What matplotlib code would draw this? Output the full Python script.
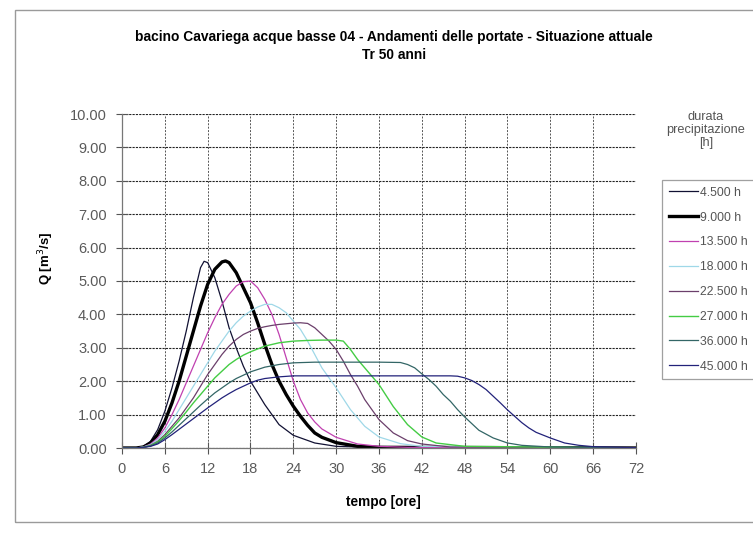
import matplotlib
matplotlib.use("Agg")
import matplotlib.pyplot as plt
from matplotlib.patches import Rectangle

plt.rcParams['font.family'] = ['Liberation Sans', 'DejaVu Sans']

# ---------------- data ----------------
title = "bacino Cavariega acque basse 04 - Andamenti delle portate - Situazione attuale"
subtitle = "Tr 50 anni"
labels = ["4.500 h", "9.000 h", "13.500 h", "18.000 h", "22.500 h", "27.000 h", "36.000 h", "45.000 h"]
x_ticks = [0, 6, 12, 18, 24, 30, 36, 42, 48, 54, 60, 66, 72]
y_ticks = [0, 1, 2, 3, 4, 5, 6, 7, 8, 9, 10]

t_4_5 = [0, 2, 3, 4, 5, 6, 7, 8, 9, 10, 11, 11.5, 12, 13, 14, 15, 16, 17, 18, 20, 22, 24, 27, 30, 36, 72]
q_4_5 = [0, 0, 0.05, 0.2, 0.55, 1.1, 1.8, 2.6, 3.5, 4.5, 5.4, 5.59, 5.55, 5.1, 4.4, 3.6, 3.0, 2.45, 2.0, 1.3, 0.7, 0.38, 0.15, 0.05, 0.01, 0]

t_9 = [0, 2, 3, 4, 5, 6, 7, 8, 9, 10, 11, 12, 13, 14, 14.5, 15, 16, 17, 18, 19, 20, 21, 22, 23, 24, 25, 26, 27, 28, 30, 33, 36, 72]
q_9 = [0, 0, 0.03, 0.15, 0.4, 0.8, 1.35, 2.0, 2.75, 3.5, 4.25, 4.9, 5.35, 5.57, 5.6, 5.55, 5.25, 4.8, 4.35, 3.75, 3.1, 2.5, 2.0, 1.6, 1.25, 0.95, 0.68, 0.45, 0.32, 0.16, 0.05, 0.02, 0]

t_13_5 = [0, 2, 3, 4, 5, 6, 7, 8, 9, 10, 11, 12, 13, 14, 15, 16, 17, 18, 19, 20, 21, 22, 23, 24, 25, 26, 27, 28, 30, 33, 36, 40, 72]
q_13_5 = [0, 0, 0.03, 0.12, 0.3, 0.6, 1.0, 1.45, 1.95, 2.45, 2.95, 3.45, 3.9, 4.3, 4.6, 4.85, 4.98, 5.0, 4.8, 4.45, 4.0, 3.4, 2.7, 2.0, 1.45, 1.05, 0.78, 0.57, 0.32, 0.12, 0.05, 0.02, 0]

t_18 = [0, 2, 3, 4, 5, 6, 7, 8, 9, 10, 11, 12, 13, 14, 15, 16, 17, 18, 19, 20, 21, 22, 23, 24, 25, 26, 27, 28, 29, 30, 32, 34, 36, 39, 42, 72]
q_18 = [0, 0, 0.03, 0.1, 0.25, 0.5, 0.8, 1.15, 1.5, 1.85, 2.2, 2.55, 2.9, 3.2, 3.5, 3.75, 3.95, 4.1, 4.22, 4.3, 4.3, 4.2, 4.05, 3.8, 3.55, 3.2, 2.8, 2.4, 2.1, 1.8, 1.15, 0.65, 0.33, 0.13, 0.05, 0]

t_22_5 = [0, 2, 3, 4, 5, 6, 7, 8, 9, 10, 11, 12, 13, 14, 15, 16, 17, 18, 19, 20, 21, 22, 23, 24, 25, 26, 27, 28, 29, 30, 31, 32, 33, 34, 36, 38, 40, 42, 46, 72]
q_22_5 = [0, 0, 0.02, 0.08, 0.2, 0.4, 0.65, 0.9, 1.2, 1.5, 1.85, 2.2, 2.5, 2.8, 3.05, 3.25, 3.4, 3.5, 3.58, 3.63, 3.67, 3.7, 3.72, 3.74, 3.75, 3.73, 3.6, 3.4, 3.2, 2.95, 2.6, 2.2, 1.85, 1.45, 0.85, 0.45, 0.22, 0.12, 0.03, 0]

t_27 = [0, 2, 3, 4, 5, 6, 7, 8, 9, 10, 11, 12, 13, 14, 15, 16, 17, 18, 20, 22, 24, 26, 28, 30, 31, 32, 33, 34, 35, 36, 38, 40, 42, 44, 48, 72]
q_27 = [0, 0, 0.02, 0.07, 0.18, 0.35, 0.58, 0.82, 1.08, 1.35, 1.6, 1.85, 2.1, 2.3, 2.5, 2.65, 2.78, 2.88, 3.05, 3.15, 3.2, 3.22, 3.23, 3.23, 3.2, 2.95, 2.65, 2.4, 2.15, 1.9, 1.24, 0.7, 0.33, 0.15, 0.05, 0]

t_36 = [0, 2, 3, 4, 5, 6, 7, 8, 9, 10, 11, 12, 13, 14, 15, 16, 18, 20, 22, 24, 27, 30, 33, 36, 39, 40, 41, 42, 43, 44, 45, 46, 47, 48, 50, 52, 54, 56, 60, 72]
q_36 = [0, 0, 0.02, 0.06, 0.15, 0.3, 0.48, 0.68, 0.88, 1.08, 1.28, 1.47, 1.65, 1.8, 1.95, 2.08, 2.28, 2.42, 2.5, 2.55, 2.57, 2.57, 2.57, 2.57, 2.56, 2.5, 2.4, 2.22, 2.05, 1.85, 1.6, 1.4, 1.15, 0.93, 0.53, 0.3, 0.15, 0.08, 0.03, 0]

t_45 = [0, 2, 3, 4, 5, 6, 7, 8, 9, 10, 11, 12, 13, 14, 15, 16, 17, 18, 19, 20, 22, 24, 27, 30, 36, 42, 46, 47, 48, 49, 50, 51, 52, 53, 54, 55, 56, 57, 58, 60, 62, 64, 66, 72]
q_45 = [0, 0, 0.02, 0.05, 0.12, 0.25, 0.4, 0.56, 0.72, 0.88, 1.04, 1.2, 1.35, 1.5, 1.63, 1.75, 1.85, 1.95, 2.03, 2.08, 2.13, 2.16, 2.16, 2.16, 2.16, 2.16, 2.16, 2.15, 2.1, 2.02, 1.9, 1.75, 1.55, 1.35, 1.14, 0.95, 0.76, 0.6, 0.47, 0.3, 0.15, 0.08, 0.04, 0.01]

series_t = [t_4_5, t_9, t_13_5, t_18, t_22_5, t_27, t_36, t_45]
series_q = [q_4_5, q_9, q_13_5, q_18, q_22_5, q_27, q_36, q_45]

colors = ["#111133", "#000000", "#c040b0", "#9fd8e8", "#6b3f6b", "#44cc44", "#336666", "#22227a"]
widths = [0.9, 2.4, 0.9, 0.9, 0.9, 1.0, 0.9, 0.9]

# ---------------- figure ----------------
W, H = 753, 533
fig = plt.figure(figsize=(W / 100, H / 100), dpi=100)
fig.patch.set_facecolor("white")

# outer frame of the chart
fig.add_artist(Rectangle((15 / W, 1 - 522 / H), (760 - 15) / W, (522 - 10) / H,
                         transform=fig.transFigure, fill=False,
                         edgecolor="#9a9a9a", linewidth=1.0))

ax = fig.add_axes([122 / W, 1 - 448 / H, (636 - 122) / W, (448 - 114) / H])
for t, q, c, w, lab in zip(series_t, series_q, colors, widths, labels):
    ax.plot(t, q, color=c, linewidth=w, label=lab, solid_joinstyle="round")

ax.set_xlim(0, 72)
ax.set_ylim(0, 10)
ax.set_xticks(x_ticks)
ax.set_yticks(y_ticks)
ax.set_xticklabels([str(v) for v in x_ticks])
ax.set_yticklabels([f"{v:.2f}" for v in y_ticks])
ax.tick_params(axis="both", direction="inout", length=8, width=0.8, color="#555555",
               labelsize=10.5, labelcolor="#5a5a5a")
ax.tick_params(axis="x", pad=6)
ax.tick_params(axis="y", pad=7)

ax.grid(axis="y", color="#222222", linestyle=(0, (2, 1)), linewidth=0.8)
ax.grid(axis="x", color="#555555", linestyle=(0, (2, 1.5)), linewidth=0.7)
ax.set_axisbelow(True)
for s in ["top", "right"]:
    ax.spines[s].set_visible(False)
for s in ["left", "bottom"]:
    ax.spines[s].set_color("#777777")
    ax.spines[s].set_linewidth(0.9)

fig.text(394 / W, 1 - 37 / H, title, ha="center", va="center", fontsize=9.9, fontweight="bold")
fig.text(394 / W, 1 - 55 / H, subtitle, ha="center", va="center", fontsize=9.9, fontweight="bold")
fig.text(383 / W, 1 - 502 / H, "tempo [ore]", ha="center", va="center", fontsize=9.8, fontweight="bold")
fig.text(46 / W, 1 - 258 / H, "Q [m$^3$/s]", ha="center", va="center", fontsize=9.5,
         fontweight="bold", rotation=90)

fig.text(706 / W, 1 - 130 / H, "durata\nprecipitazione\n[h]", ha="center", va="center",
         fontsize=9.2, color="#555555", linespacing=1.1)

leg = ax.legend(loc="upper left", bbox_to_anchor=(662 / W, 1 - 180 / H),
                bbox_transform=fig.transFigure, frameon=True, fancybox=False,
                fontsize=8.8, labelspacing=1.05, handlelength=2.4, handletextpad=0.15,
                borderpad=0.55, borderaxespad=0)
leg.get_frame().set_edgecolor("#888888")
leg.get_frame().set_linewidth(0.9)
for txt in leg.get_texts():
    txt.set_color("#555555")

fig.savefig("out.png", dpi=100)
